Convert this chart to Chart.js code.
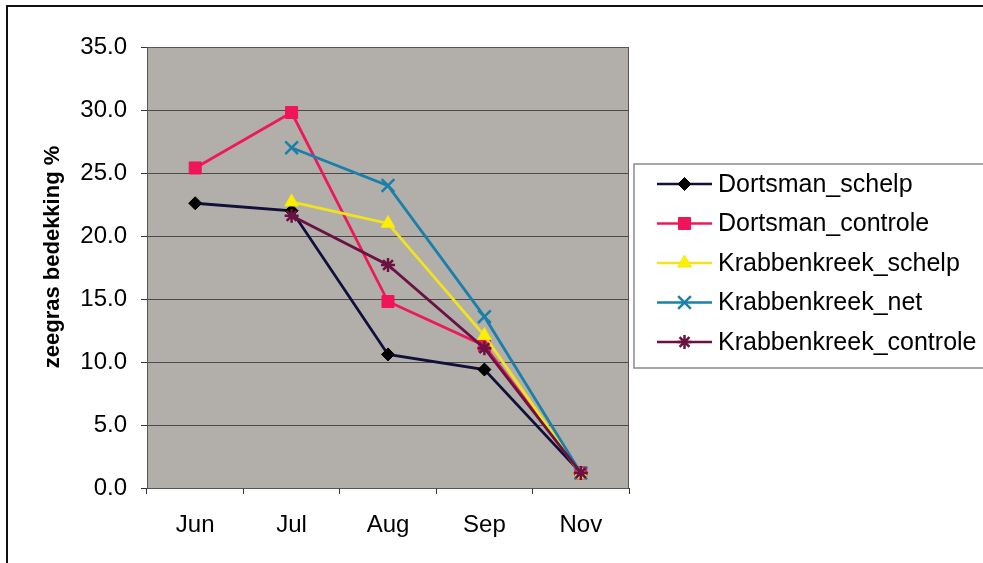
<!DOCTYPE html>
<html>
<head>
<meta charset="utf-8">
<script src="https://cdn.jsdelivr.net/npm/chart.js@4/dist/chart.umd.min.js"></script>
<style>
  html, body { margin: 0; padding: 0; background: #fff; }
  #wrap { width: 983px; height: 563px; }
</style>
</head>
<body>
<div id="wrap"><canvas id="c" width="983" height="563"></canvas></div>
<script>
const categories = ['Jun', 'Jul', 'Aug', 'Sep', 'Nov'];
const seriesNames = ['Dortsman_schelp', 'Dortsman_controle', 'Krabbenkreek_schelp', 'Krabbenkreek_net', 'Krabbenkreek_controle'];
const dortsmanSchelp = [22.6, 22.0, 10.6, 9.4, 1.2];
const dortsmanControle = [25.4, 29.8, 14.8, 11.3, 1.2];
const krabbenkreekSchelp = [null, 22.7, 21.0, 12.1, 1.1];
const krabbenkreekNet = [null, 27.0, 24.0, 13.6, 1.2];
const krabbenkreekControle = [null, 21.6, 17.7, 11.1, 1.2];
const yTicks = [0, 5, 10, 15, 20, 25, 30, 35];
const yTitle = 'zeegras bedekking %';

const FONT = '"Liberation Sans", Arial, sans-serif';

const styles = [
  { line: '#10103a', fill: '#000000', border: '#000000', pt: 'rectRot', r: 6.5, bw: 1 },
  { line: '#ec1a58', fill: '#f0145a', border: '#f0145a', pt: 'rect', r: 8.5, bw: 1 },
  { line: '#f2e41c', fill: '#fff000', border: '#f2e41c', pt: 'triangle', r: 8, bw: 1 },
  { line: '#1a80aa', fill: '#1a80aa', border: '#1a80aa', pt: 'crossRot', r: 9, bw: 2.5 },
  { line: '#6a1242', fill: '#6a1242', border: '#6a1242', pt: 'star', r: 7, bw: 2.5 }
];
const values = [dortsmanSchelp, dortsmanControle, krabbenkreekSchelp, krabbenkreekNet, krabbenkreekControle];

const datasets = values.map((v, i) => ({
  label: seriesNames[i],
  data: v,
  borderColor: styles[i].line,
  backgroundColor: styles[i].fill,
  borderWidth: 2.8,
  tension: 0,
  pointStyle: styles[i].pt,
  pointRadius: styles[i].r,
  pointHoverRadius: styles[i].r,
  pointBackgroundColor: styles[i].fill,
  pointBorderColor: styles[i].border,
  pointBorderWidth: styles[i].bw,
  spanGaps: false,
  order: -i
}));

function drawMarker(ctx, st, x, y) {
  const opts = { pointStyle: st.pt, radius: st.r, borderWidth: st.bw, rotation: 0 };
  ctx.save();
  ctx.fillStyle = st.fill;
  ctx.strokeStyle = st.border;
  ctx.lineWidth = st.bw;
  if (window.Chart && Chart.helpers && Chart.helpers.drawPoint) {
    Chart.helpers.drawPoint(ctx, opts, x, y);
  }
  ctx.restore();
}

const decor = {
  id: 'decor',
  beforeDraw(chart) {
    const ctx = chart.ctx;
    const a = chart.chartArea;
    ctx.save();
    ctx.fillStyle = '#ffffff';
    ctx.fillRect(0, 0, chart.width, chart.height);
    ctx.strokeStyle = '#111';
    ctx.lineWidth = 2;
    ctx.beginPath();
    ctx.moveTo(7, 563);
    ctx.lineTo(7, 6);
    ctx.lineTo(990, 6);
    ctx.stroke();
    ctx.fillStyle = '#b2afab';
    ctx.fillRect(a.left, a.top, a.right - a.left, a.bottom - a.top);
    ctx.restore();
  },
  beforeDatasetsDraw(chart) {
    const ctx = chart.ctx;
    const a = chart.chartArea;
    ctx.save();
    ctx.strokeStyle = '#555';
    ctx.lineWidth = 1;
    ctx.strokeRect(a.left + 0.5, a.top + 0.5, a.right - a.left - 1, a.bottom - a.top);
    ctx.restore();
  },
  afterDraw(chart) {
    const ctx = chart.ctx;
    ctx.save();
    ctx.translate(53, 257);
    ctx.rotate(-Math.PI / 2);
    ctx.font = 'bold 22px ' + FONT;
    ctx.fillStyle = '#000';
    ctx.textAlign = 'center';
    ctx.textBaseline = 'middle';
    ctx.fillText(yTitle, 0, 0);
    ctx.restore();

    ctx.save();
    ctx.fillStyle = '#fff';
    ctx.fillRect(634, 164, 360, 204);
    ctx.strokeStyle = '#8a8a8a';
    ctx.lineWidth = 1.5;
    ctx.strokeRect(634, 164, 360, 204);
    ctx.font = '25px ' + FONT;
    ctx.textBaseline = 'middle';
    ctx.textAlign = 'left';
    chart.data.datasets.forEach((ds, i) => {
      const y = 184 + i * 39.5;
      ctx.strokeStyle = styles[i].line;
      ctx.lineWidth = 2.5;
      ctx.beginPath();
      ctx.moveTo(657, y);
      ctx.lineTo(712, y);
      ctx.stroke();
      drawMarker(ctx, styles[i], 684.5, y);
      ctx.fillStyle = '#000';
      ctx.fillText(ds.label, 718, y + 1);
    });
    ctx.restore();
  }
};

new Chart(document.getElementById('c'), {
  type: 'line',
  data: { labels: categories, datasets: datasets },
  plugins: [decor],
  options: {
    responsive: false,
    animation: false,
    events: [],
    layout: { padding: { left: 0, top: 47, right: 354, bottom: 0 } },
    plugins: { legend: { display: false }, tooltip: { enabled: false }, title: { display: false } },
    scales: {
      x: {
        type: 'category',
        offset: true,
        afterFit(s) { s.height = 75; },
        grid: { offset: true, drawOnChartArea: false, drawTicks: true, tickLength: 6, color: '#333', tickColor: '#333', lineWidth: 1 },
        border: { display: true, color: '#333', width: 1 },
        ticks: { color: '#000', font: { family: FONT, size: 24 }, padding: 17, maxRotation: 0 }
      },
      y: {
        min: 0,
        max: 35,
        afterFit(s) { s.width = 147; },
        afterBuildTicks(s) { s.ticks = yTicks.map(v => ({ value: v })); },
        grid: { drawOnChartArea: true, drawTicks: true, tickLength: 6, color: '#4a4a4a', tickColor: '#333', lineWidth: 1 },
        border: { display: true, color: '#333', width: 1 },
        ticks: { color: '#000', font: { family: FONT, size: 24 }, padding: 14, callback: v => Number(v).toFixed(1) }
      }
    }
  }
});
</script>
</body>
</html>
